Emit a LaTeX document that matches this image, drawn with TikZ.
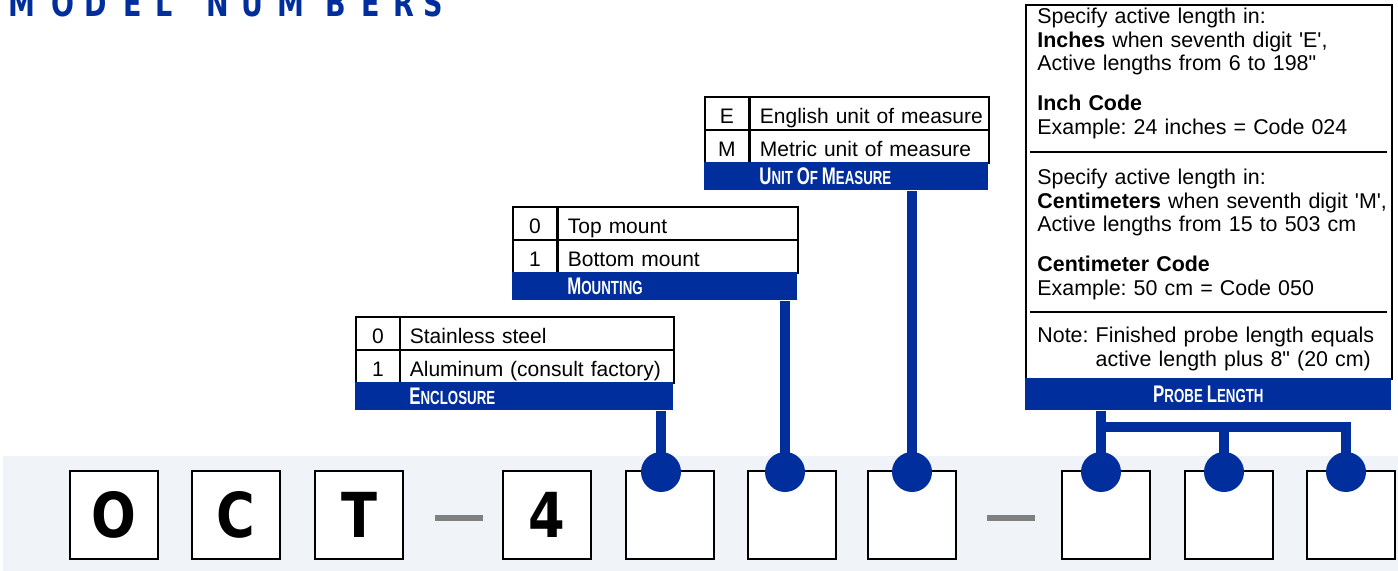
\documentclass[tikz,border=0pt]{standalone}
\usepackage{fontspec}
\setmainfont{Liberation Sans}
\newfontfamily\txtfont{Liberation Sans}
\newfontfamily\headfont{Liberation Sans}[FakeStretch=0.7]
\newfontfamily\titlefont{DejaVu Sans}[FakeStretch=0.75]
\newfontfamily\digitfont{DejaVu Sans}[FakeStretch=0.85]
\definecolor{modelblue}{RGB}{0,46,157}
\definecolor{bandgray}{RGB}{240,243,248}
\definecolor{hyphengray}{RGB}{128,128,128}
\newcommand{\bw}{44pt}
\newcommand{\smcap}[2]{{\fontsize{12}{12}\selectfont #1}{\fontsize{9.5}{10}\selectfont #2}}
\frenchspacing

\begin{document}
\begin{tikzpicture}[x=0.5pt, y=-0.5pt,
    digit/.style={draw, line width=1.3pt, fill=white, minimum width=\bw, minimum height=\bw, inner sep=0pt, font=\digitfont\bfseries\fontsize{31}{31}\selectfont},
    dot/.style={circle, fill=modelblue, minimum size=20pt, inner sep=0pt},
    hyphen/.style={fill=hyphengray, minimum width=24pt, minimum height=3pt, inner sep=0pt},
    key/.style={draw, line width=0.9pt, fill=white, anchor=north west, minimum width=22pt, minimum height=16.5pt, inner sep=0pt, text height=9.7pt, text depth=0pt, font=\txtfont\fontsize{10.5}{12}\selectfont},
    item/.style={key, inner xsep=5pt, text width=#1, align=left, execute at begin node={\hbox\bgroup}, execute at end node={\egroup}},
    headbar/.style={fill=modelblue, text=white, anchor=north west, minimum height=14pt, inner sep=0pt, font=\headfont\bfseries},
    headlabel/.style={anchor=west, text=white, inner xsep=5pt, inner ysep=0pt, font=\headfont\bfseries},
    note/.style={anchor=base west, align=left, text width=180pt, inner sep=0pt, font=\txtfont\fontsize{10.7}{11.75}\selectfont},
    link/.style={draw=modelblue, line width=5pt},
    letter/.style={anchor=base, text=modelblue, inner sep=0pt, font=\titlefont\bfseries\fontsize{18}{18}\selectfont}]
    \clip (0,0) rectangle (1398,571);
    \useasboundingbox (0,0) rectangle (1398,571);

    % Title
    \foreach \x/\c [count=\i] in {22/M, 63/O, 96/D, 133/E, 164/L, 218/N, 252/U, 291/M, 336/B, 371/E, 404/R, 433/S}
        \node[letter] (title-\i) at (\x,17) {\c};

    % Band with the code boxes
    \fill[bandgray] (3,456) rectangle (1398,571);
    \node[digit] (box-1) at (114,515) {O};
    \node[digit] (box-2) at (236,515) {C};
    \node[digit] (box-3) at (359,515) {T};
    \node[hyphen] (dash-1) at (459,518) {};
    \node[digit] (box-4) at (547,515) {4};
    \node[digit] (box-5) at (670,515) {};
    \node[digit] (box-6) at (792,515) {};
    \node[digit] (box-7) at (912,515) {};
    \node[hyphen] (dash-2) at (1011,518) {};
    \node[digit] (box-8) at (1106,515) {};
    \node[digit] (box-9) at (1229,515) {};
    \node[digit] (box-10) at (1351,515) {};

    \node[dot] (dot-1) at (661,472) {};
    \node[dot] (dot-2) at (785,472) {};
    \node[dot] (dot-3) at (912,472) {};
    \node[dot] (dot-4) at (1101,472) {};
    \node[dot] (dot-5) at (1224,472) {};
    \node[dot] (dot-6) at (1346,472) {};

    % Enclosure
    \node[key] (encl-0) at (355,316) {0};
    \node[item=127pt] (encl-0-text) at (399,316) {Stainless steel};
    \node[key] (encl-1) at (355,349) {1};
    \node[item=127pt] (encl-1-text) at (399,349) {Aluminum (consult factory)};
    \node[headbar, minimum width=159pt] (encl-head) at (355,382) {};
    \node[headlabel] (encl-label) at (encl-1-text.west |- encl-head) {\smcap{E}{NCLOSURE}};

    % Mounting
    \node[key] (mount-0) at (512,206) {0};
    \node[item=110pt] (mount-0-text) at (557,206) {Top mount};
    \node[key] (mount-1) at (512,239) {1};
    \node[item=110pt] (mount-1-text) at (557,239) {Bottom mount};
    \node[headbar, minimum width=142.5pt] (mount-head) at (512,272) {};
    \node[headlabel] (mount-label) at (mount-1-text.west |- mount-head) {\smcap{M}{OUNTING}};

    % Unit of measure
    \node[key] (unit-e) at (704,96) {E};
    \node[item=109.5pt] (unit-e-text) at (749,96) {English unit of measure};
    \node[key] (unit-m) at (704,129) {M};
    \node[item=109.5pt] (unit-m-text) at (749,129) {Metric unit of measure};
    \node[headbar, minimum width=142pt] (unit-head) at (704,162) {};
    \node[headlabel] (unit-label) at (unit-m-text.west |- unit-head) {\smcap{U}{NIT} \smcap{O}{F} \smcap{M}{EASURE}};

    % Probe length
    \node[draw, line width=1pt, anchor=north west, minimum width=183pt, minimum height=187pt, inner sep=0pt] (probe-box) at (1025,4) {};
    \node[note] (probe-inch) at (1037,24) {Specify active length in:\\
        \textbf{Inches} when seventh digit 'E',\\
        Active lengths from 6 to 198"\\[8.25pt]
        \textbf{Inch Code}\\
        Example: 24 inches = Code 024};
    \draw[line width=0.6pt] (1030,152) -- (1387,152);
    \node[note] (probe-cm) at (1037,185) {Specify active length in:\\
        \textbf{Centimeters} when seventh digit 'M',\\
        Active lengths from 15 to 503 cm\\[8.25pt]
        \textbf{Centimeter Code}\\
        Example: 50 cm = Code 050};
    \draw[line width=0.6pt] (1030,312) -- (1387,312);
    \node[note] (probe-note) at (1037,343) {Note: Finished probe length equals\\
        \hphantom{Note:\ }active length plus 8" (20 cm)};
    \node[headbar, minimum width=183pt, minimum height=16pt] (probe-head) at (1025,378) {\smcap{P}{ROBE} \smcap{L}{ENGTH}};

    % Connectors
    \draw[link] (encl-head.south -| dot-1) -- (dot-1.center);
    \draw[link] (mount-head.south -| dot-2) -- (dot-2.center);
    \draw[link] (unit-head.south -| dot-3) -- (dot-3.center);
    \coordinate (probe-join) at (1101,427);
    \draw[link] (probe-head.south -| dot-4) -- (dot-4.center);
    \draw[link] (dot-4 |- probe-join) -| (dot-6.center);
    \draw[link] (dot-5 |- probe-join) -- (dot-5.center);

\end{tikzpicture}
\end{document}
